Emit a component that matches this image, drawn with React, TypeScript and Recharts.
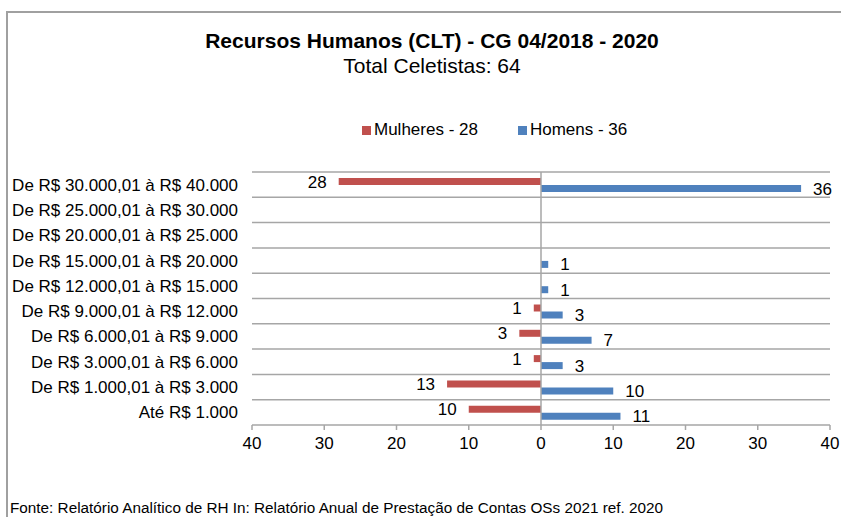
import { BarChart, Bar, XAxis, YAxis, CartesianGrid, ReferenceLine, Legend, LabelList } from "recharts";

const FAIXAS = [
  "De R$ 30.000,01 à R$ 40.000",
  "De R$ 25.000,01 à R$ 30.000",
  "De R$ 20.000,01 à R$ 25.000",
  "De R$ 15.000,01 à R$ 20.000",
  "De R$ 12.000,01 à R$ 15.000",
  "De R$ 9.000,01 à R$ 12.000",
  "De R$ 6.000,01 à R$ 9.000",
  "De R$ 3.000,01 à R$ 6.000",
  "De R$ 1.000,01 à R$ 3.000",
  "Até R$ 1.000",
];

const MULHERES = [28, 0, 0, 0, 0, 1, 3, 1, 13, 10];
const HOMENS = [36, 0, 0, 1, 1, 3, 7, 3, 10, 11];

const X_TICKS = [-40, -30, -20, -10, 0, 10, 20, 30, 40];

const FONT = '"Liberation Sans", Arial, sans-serif';
const RED = "#C0504D";
const BLUE = "#4F81BD";
const GRID = "#a6a6a6";

// women go to the left as negative values
const data = FAIXAS.map((faixa, i) => ({
  faixa,
  mulheres: -MULHERES[i],
  homens: HOMENS[i],
}));

const absLabel = (v: unknown) => {
  const n = Math.abs(Number(v));
  return n === 0 ? "" : String(n);
};

const SERIES_ORDER = ["mulheres", "homens"];

type LegendItem = { value?: string; color?: string; dataKey?: string };

function ChartLegend({ payload }: { payload?: ReadonlyArray<LegendItem> }) {
  const items = [...(payload ?? [])].sort(
    (a, b) => SERIES_ORDER.indexOf(String(a.dataKey)) - SERIES_ORDER.indexOf(String(b.dataKey))
  );
  return (
    <div style={{ display: "flex", paddingLeft: 362, gap: 40, fontFamily: FONT, fontSize: 17 }}>
      {items.map((p) => (
        <div key={p.value} style={{ display: "flex", alignItems: "center" }}>
          <span style={{ width: 9, height: 9, background: p.color, marginRight: 3, display: "inline-block" }} />
          <span style={{ color: "#000" }}>{p.value}</span>
        </div>
      ))}
    </div>
  );
}

export default function App() {
  return (
    <div
      style={{
        position: "absolute",
        left: 0,
        top: 0,
        width: 841,
        height: 517,
        overflow: "hidden",
        background: "#fff",
        fontFamily: FONT,
      }}
    >
      {/* frame, only top and left edges visible */}
      <div
        style={{
          position: "absolute",
          left: 6,
          top: 11,
          width: 900,
          height: 600,
          borderLeft: "2px solid #a0a0a0",
          borderTop: "2px solid #a0a0a0",
        }}
      />

      <div style={{ position: "absolute", top: 29, left: 0, width: 864, textAlign: "center", fontWeight: "bold", fontSize: 21 }}>
        Recursos Humanos (CLT) - CG 04/2018 - 2020
      </div>
      <div style={{ position: "absolute", top: 54, left: 0, width: 864, textAlign: "center", fontSize: 21 }}>
        Total Celetistas: 64
      </div>

      <div style={{ position: "absolute", top: 0, left: 0 }}>
        <BarChart
          width={841}
          height={517}
          data={data}
          layout="vertical"
          margin={{ top: 172, right: 11, bottom: 62, left: 0 }}
          barSize={7}
          barGap={0}
        >
          <CartesianGrid
            vertical={false}
            stroke={GRID}
            strokeWidth={1.5}
            horizontalCoordinatesGenerator={({ offset }: any) =>
              FAIXAS.map((_, i) => offset.top + (i * offset.height) / FAIXAS.length)
            }
          />
          <XAxis
            type="number"
            domain={[-40, 40]}
            ticks={X_TICKS}
            tickFormatter={(v: number) => String(Math.abs(v))}
            stroke={GRID}
            strokeWidth={1.5}
            tickSize={5}
            tickMargin={7}
            height={30}
            tick={{ fill: "#000", fontSize: 17, fontFamily: FONT }}
          />
          <YAxis
            type="category"
            dataKey="faixa"
            width={252}
            axisLine={false}
            tickLine={false}
            tickSize={0}
            tickMargin={14}
            interval={0}
            tick={{ fill: "#000", fontSize: 17, fontFamily: FONT }}
          />
          <ReferenceLine x={0} stroke={GRID} strokeWidth={1.5} />
          <Legend
            verticalAlign="middle"
            align="center"
            wrapperStyle={{ top: 120, left: 0, width: 841 }}
            content={(props: any) => <ChartLegend payload={props.payload} />}
          />
          <Bar dataKey="mulheres" name="Mulheres - 28" fill={RED} isAnimationActive={false}>
            {/* negative width: "right" lands beyond the bar's left end */}
            <LabelList
              dataKey="mulheres"
              position="right"
              offset={12}
              formatter={absLabel}
              fill="#000"
              fontSize={17}
              fontFamily={FONT}
            />
          </Bar>
          <Bar dataKey="homens" name="Homens - 36" fill={BLUE} isAnimationActive={false}>
            <LabelList
              dataKey="homens"
              position="right"
              offset={12}
              formatter={absLabel}
              fill="#000"
              fontSize={17}
              fontFamily={FONT}
            />
          </Bar>
        </BarChart>
      </div>

      <div style={{ position: "absolute", top: 499, left: 10, fontSize: 15.3 }}>
        Fonte: Relatório Analítico de RH In: Relatório Anual de Prestação de Contas OSs 2021 ref. 2020
      </div>
    </div>
  );
}
